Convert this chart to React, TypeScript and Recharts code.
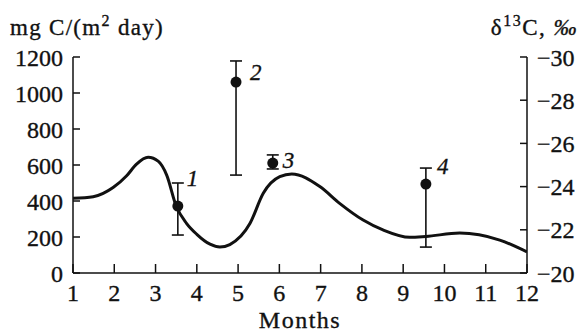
import React from 'react';
import { ComposedChart, Line, Scatter, ErrorBar, XAxis, YAxis } from 'recharts';

// seasonal curve, mg C/(m2 day)
const curveMonths = [1, 1.49, 1.98, 2.3, 2.54, 2.82, 3.07, 3.27, 3.5, 3.75, 4.0, 4.32, 4.56, 4.8, 5.29, 5.61, 6.01, 6.3, 6.98, 7.46, 8.03, 8.51, 9.16, 9.55, 10.37, 11.34, 12];
const curveValues = [415, 424, 476, 540, 605, 643, 620, 544, 372, 276, 215, 160, 144, 158, 276, 443, 535, 550, 480, 387, 294, 239, 198, 203, 222, 183, 117];

// numbered measurements with their ranges
const pointMonths = [3.54, 4.95, 5.84, 9.55];
const pointValues = [372, 1061, 611, 494];
const pointLow = [211, 544, 578, 144];
const pointHigh = [500, 1178, 656, 583];
const pointLabels = ['1', '2', '3', '4'];

const leftTicks = [0, 200, 400, 600, 800, 1000, 1200];
const rightTicks = [-30, -28, -26, -24, -22, -20];
const monthTicks = [1, 2, 3, 4, 5, 6, 7, 8, 9, 10, 11, 12];

const FONT = 'Liberation Serif, Times New Roman, Times, serif';
const INK = '#111';

const curveData = curveMonths.map((m, i) => ({ m, v: curveValues[i] }));
const pointData = pointMonths.map((m, i) => ({
  m,
  v: pointValues[i],
  err: [pointValues[i] - pointLow[i], pointHigh[i] - pointValues[i]],
  label: pointLabels[i],
}));
// invisible series so the right-hand δ13C axis gets laid out
const rightAnchor = [
  { m: 1, d: rightTicks[0] },
  { m: 12, d: rightTicks[rightTicks.length - 1] },
];

// where each number sits next to its dot
const labelOffset: Record<string, [number, number]> = {
  '1': [9, -28],
  '2': [14, -10],
  '3': [10, -3],
  '4': [11, -18],
};

// the scan is a bit heavy, so thicken the glyphs slightly
const txt = { fontFamily: FONT, fill: INK, stroke: INK, strokeWidth: 0.35 };

const LeftTick = ({ x, y, payload }: any) => (
  <g>
    <line x1={x + 10} x2={x + 17} y1={y} y2={y} stroke={INK} strokeWidth={1.5} />
    <text x={x} y={y} dy="0.36em" textAnchor="end" fontSize={24} style={txt}>
      {payload.value}
    </text>
  </g>
);

const RightTick = ({ x, y, payload }: any) => (
  <g>
    <line x1={x - 10} x2={x - 17} y1={y} y2={y} stroke={INK} strokeWidth={1.5} />
    <text x={x} y={y} dy="0.36em" textAnchor="start" fontSize={24} style={txt}>
      {String(payload.value).replace('-', '\u2212')}
    </text>
  </g>
);

const MonthTick = ({ x, y, payload }: any) => (
  <g>
    <line x1={x} x2={x} y1={y} y2={y - 9} stroke={INK} strokeWidth={1.5} />
    <text x={x} y={y + 28} textAnchor="middle" fontSize={24} style={txt}>
      {payload.value}
    </text>
  </g>
);

const PointShape = (props: any) => {
  const { cx, cy, payload } = props;
  const [dx, dy] = labelOffset[payload.label] || [10, -10];
  return (
    <g>
      <circle cx={cx} cy={cy} r={5.5} fill={INK} />
      <text x={cx + dx} y={cy + dy} dy="0.36em" fontStyle="italic" fontSize={23} style={txt}>
        {payload.label}
      </text>
    </g>
  );
};

export default function App() {
  return (
    <div style={{ position: 'absolute', left: 0, top: 0, width: 581, height: 332, background: '#fff' }}>
      <ComposedChart width={581} height={332} margin={{ top: 57, right: 0, bottom: 0, left: 0 }}>
        <XAxis
          dataKey="m"
          type="number"
          domain={[1, 12]}
          ticks={monthTicks}
          allowDataOverflow
          height={59}
          tickSize={0}
          tickMargin={0}
          tick={<MonthTick />}
          axisLine={{ stroke: INK, strokeWidth: 1.5 }}
          tickLine={false}
        />
        <YAxis
          yAxisId="left"
          orientation="left"
          type="number"
          domain={[0, 1200]}
          ticks={leftTicks}
          width={73}
          tickSize={0}
          tickMargin={10}
          tick={<LeftTick />}
          axisLine={{ stroke: INK, strokeWidth: 1.5 }}
          tickLine={false}
        />
        <YAxis
          yAxisId="right"
          orientation="right"
          type="number"
          domain={[-30, -20]}
          reversed
          ticks={rightTicks}
          width={54}
          tickSize={0}
          tickMargin={10}
          tick={<RightTick />}
          axisLine={{ stroke: INK, strokeWidth: 1.5 }}
          tickLine={false}
        />
        <Line
          yAxisId="right"
          data={rightAnchor}
          dataKey="d"
          stroke="none"
          dot={false}
          activeDot={false}
          isAnimationActive={false}
        />
        <Line
          yAxisId="left"
          data={curveData}
          dataKey="v"
          type="monotone"
          stroke={INK}
          strokeWidth={3}
          dot={false}
          activeDot={false}
          isAnimationActive={false}
        />
        <Scatter
          yAxisId="left"
          data={pointData}
          dataKey="v"
          shape={<PointShape />}
          isAnimationActive={false}
        >
          <ErrorBar dataKey="err" direction="y" width={6} stroke={INK} strokeWidth={1.6} />
        </Scatter>
      </ComposedChart>
      <svg
        width={581}
        height={332}
        style={{ position: 'absolute', left: 0, top: 0, pointerEvents: 'none' }}
      >
        <text x={10} y={35} fontSize={23} letterSpacing={1.3} style={txt}>
          mg C/(m
          <tspan dy={-9} fontSize={16}>2</tspan>
          <tspan dy={9}> day)</tspan>
        </text>
        <text x={578} y={35} textAnchor="end" fontSize={23} letterSpacing={1.5} style={txt}>
          δ
          <tspan dy={-9} fontSize={16}>13</tspan>
          <tspan dy={9}>C, </tspan>
          <tspan fontStyle="italic">‰</tspan>
        </text>
        <text x={300} y={328} textAnchor="middle" fontSize={24} letterSpacing={1.5} style={txt}>
          Months
        </text>
      </svg>
    </div>
  );
}
